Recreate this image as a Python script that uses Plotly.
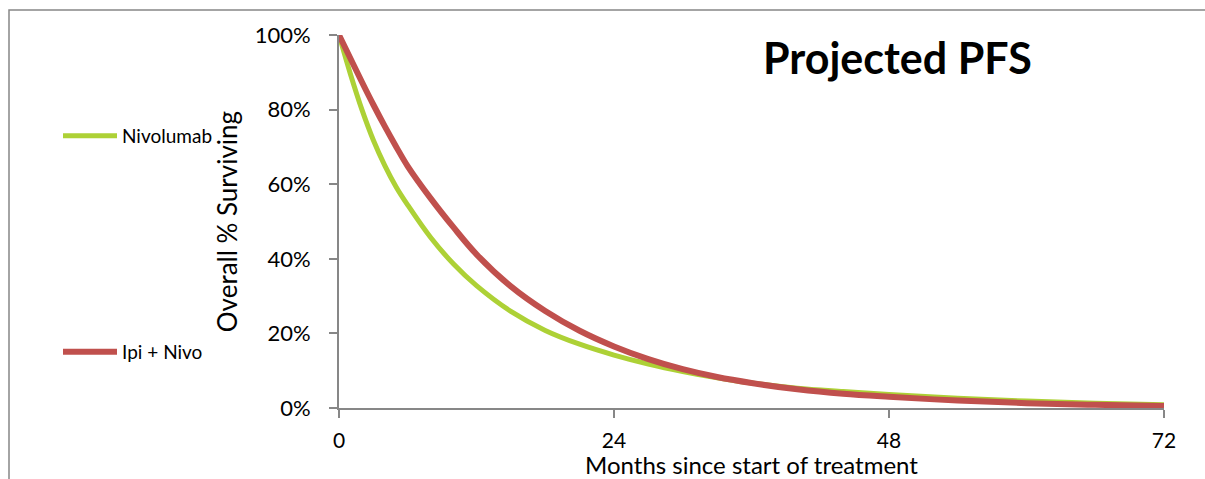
import plotly.graph_objects as go

# Projected progression-free survival, months since start of treatment
months = [0, 1, 2, 3, 4, 5, 6, 8, 10, 12, 15, 18, 21, 24, 27, 30, 33, 36, 40, 44, 48, 54, 60, 66, 72]
nivolumab = [1.000, 0.895, 0.800, 0.718, 0.650, 0.592, 0.544, 0.457, 0.386, 0.328, 0.259, 0.208,
             0.171, 0.142, 0.118, 0.098, 0.081, 0.067, 0.053, 0.044, 0.036, 0.026, 0.0185, 0.013, 0.009]
ipi_nivo = [1.000, 0.937, 0.874, 0.813, 0.755, 0.700, 0.648, 0.562, 0.484, 0.412, 0.326, 0.260,
            0.207, 0.165, 0.131, 0.104, 0.083, 0.067, 0.050, 0.038, 0.030, 0.020, 0.013, 0.0085, 0.0055]

x_ticks = [0, 24, 48, 72]
y_ticks = [0, 0.2, 0.4, 0.6, 0.8, 1.0]

GREEN = "#ADD136"
RED = "#C0504D"
GREY = "#878787"
FONT = "Lato"

fig = go.Figure()
fig.add_trace(go.Scatter(
    x=months, y=nivolumab, name="Nivolumab", mode="lines",
    line=dict(color=GREEN, width=5, shape="spline", smoothing=1.0),
    legend="legend",
))
fig.add_trace(go.Scatter(
    x=months, y=ipi_nivo, name="Ipi + Nivo", mode="lines",
    line=dict(color=RED, width=6, shape="spline", smoothing=1.0),
    legend="legend2",
))

W, H = 1205, 479
L, R, T, B = 339, 41, 35, 71

def px_x(p):
    return (p - L) / (W - L - R)

def px_y(p):
    return (H - B - p) / (H - T - B)

legend_style = dict(
    font=dict(family=FONT, size=19, color="#000000"),
    bgcolor="rgba(0,0,0,0)", borderwidth=0,
    xanchor="left", yanchor="middle", itemwidth=54,
)

fig.update_layout(
    width=W, height=H,
    margin=dict(l=L, r=R, t=T, b=B, autoexpand=False),
    paper_bgcolor="white", plot_bgcolor="white",
    font=dict(family=FONT, color="#000000"),
    showlegend=True,
    legend=dict(x=px_x(58), y=px_y(136), **legend_style),
    legend2=dict(x=px_x(58), y=px_y(352), **legend_style),
    xaxis=dict(
        range=[0, 72], tickvals=x_ticks, ticktext=[str(v) for v in x_ticks],
        showgrid=False, zeroline=False, automargin=False,
        showline=True, linecolor=GREY, linewidth=2,
        ticks="outside", ticklen=8, tickwidth=2, tickcolor=GREY,
        tickfont=dict(family=FONT, size=21, color="#000000"),
        ticklabelstandoff=5,
        title=dict(text="Months since start of treatment",
                   font=dict(family=FONT, size=24, color="#000000"), standoff=9),
    ),
    yaxis=dict(
        range=[0, 1.0], tickvals=y_ticks, tickformat=".0%",
        showgrid=False, zeroline=False, automargin=False,
        showline=True, linecolor=GREY, linewidth=2,
        ticks="outside", ticklen=8, tickwidth=2, tickcolor=GREY,
        tickfont=dict(family=FONT, size=22, color="#000000"),
        ticklabelstandoff=14,
        title=dict(text="Overall % Surviving",
                   font=dict(family=FONT, size=26, color="#000000"), standoff=10),
    ),
    annotations=[dict(
        text="<b>Projected PFS</b>", xref="paper", yref="paper",
        x=px_x(897), y=px_y(57), xanchor="center", yanchor="middle",
        showarrow=False, font=dict(family=FONT, size=43, color="#000000"),
    )],
    shapes=[dict(
        type="rect", xref="paper", yref="paper",
        x0=px_x(9), x1=px_x(1215), y0=px_y(490), y1=px_y(10),
        line=dict(color=GREY, width=1.5), fillcolor="rgba(0,0,0,0)", layer="below",
    )],
)

fig.write_html("out.html")
